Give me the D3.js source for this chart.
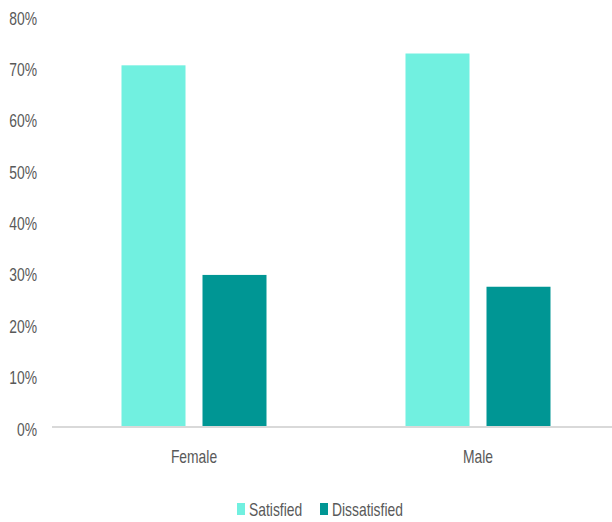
<!DOCTYPE html>
<html><head><meta charset="utf-8">
<script src="https://cdn.jsdelivr.net/npm/d3@7"></script>
<style>body{margin:0;background:#fff}svg{display:block}text{font-family:"Liberation Sans",Arial,sans-serif;fill:#595959}</style>
</head><body>
<script>
const categories = ["Female", "Male"];
const seriesNames = ["Satisfied", "Dissatisfied"];
const satisfied = [0.704, 0.727];
const dissatisfied = [0.296, 0.273];
const yTicks = [0, 0.1, 0.2, 0.3, 0.4, 0.5, 0.6, 0.7, 0.8];
const colors = ["#71F0E0", "#009694"];

const W = 612, H = 522, SX = 0.73, FS = "19px";
const svg = d3.select("body").append("svg").attr("width", W).attr("height", H);
const x0 = 52, x1 = 620, yBase = 427, yTop = 16;
const x = d3.scaleBand().domain(categories).range([x0, x1]);
const y = d3.scaleLinear().domain([0, 0.8]).range([yBase, yTop]);
const xs = d3.scaleBand().domain(seriesNames).range([0, 145]).paddingInner(17/81);

const data = categories.map((c, i) => ({c, vals: [satisfied[i], dissatisfied[i]]}));
const g = svg.append("g");
data.forEach(d => {
  const cx = x(d.c) + x.bandwidth()/2 - 72.5;
  g.selectAll(null).data(d.vals.map((v, j) => ({v, s: seriesNames[j], j}))).enter()
    .append("rect")
    .attr("x", e => cx + xs(e.s))
    .attr("width", xs.bandwidth())
    .attr("y", e => y(e.v))
    .attr("height", e => y(0) - y(e.v))
    .attr("fill", e => colors[e.j]);
});

// axis line
svg.append("line").attr("x1", x0).attr("x2", W).attr("y1", yBase).attr("y2", yBase)
  .attr("stroke", "#d9d9d9").attr("stroke-width", 2);

// y labels
const yAxis = d3.axisLeft(y).tickValues(yTicks).tickFormat(d3.format(".0%")).tickSize(0).tickPadding(0);
const ya = svg.append("g").attr("transform", "translate(37,2)").call(yAxis);
ya.select(".domain").remove();
ya.attr("font-family", null).attr("font-size", null);
ya.selectAll("text").style("font-size", FS).attr("fill", "#595959")
  .attr("x", 0).attr("transform", `scale(${SX},1)`);

// x labels
const xAxis = d3.axisBottom(x).tickSize(0).tickPadding(0);
const xa = svg.append("g").attr("transform", `translate(0,${yBase + 23})`).call(xAxis);
xa.select(".domain").remove();
xa.attr("font-family", null).attr("font-size", null);
xa.selectAll("text").style("font-size", FS).attr("fill", "#595959")
  .attr("transform", `scale(${SX},1)`);

// legend
const leg = svg.append("g");
const legX = [237, 320];
seriesNames.forEach((s, i) => {
  leg.append("rect").attr("x", legX[i]).attr("y", 503).attr("width", 8).attr("height", 12).attr("fill", colors[i]);
  leg.append("text").attr("transform", `translate(${legX[i] + 12},516) scale(${SX},1)`)
    .style("font-size", FS).text(s);
});
</script>
</body></html>
